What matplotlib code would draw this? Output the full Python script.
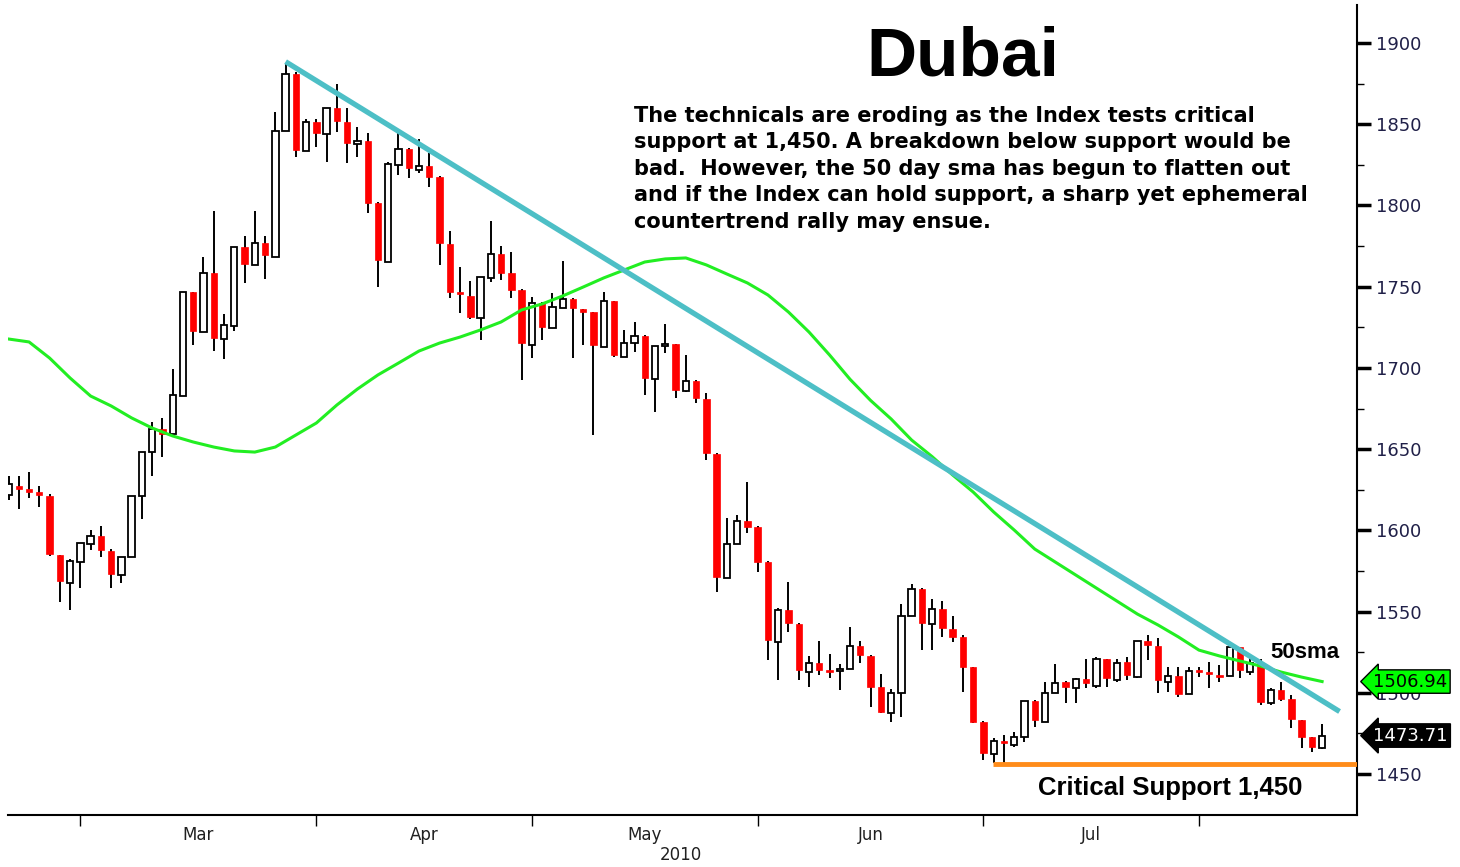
import matplotlib
matplotlib.use('Agg')
import matplotlib.pyplot as plt
from matplotlib.transforms import blended_transform_factory
import numpy as np

# daily OHLC, Dubai index, late Feb .. early Aug 2010 (one entry per trading day)
opens = [1621.8, 1627.3, 1625.5, 1623.6, 1621.2, 1584.8, 1567.6, 1580.5, 1591.6, 1596.5,
         1587.3, 1572.5, 1583.6, 1621.2, 1648.2, 1662.4, 1659.3, 1682.7, 1746.7, 1722.1,
         1758.4, 1717.8, 1725.8, 1774.4, 1763.4, 1776.9, 1768.3, 1845.9, 1880.9, 1833.5,
         1851.4, 1844.0, 1860.0, 1851.4, 1837.9, 1839.7, 1801.5, 1765.2, 1824.9, 1834.8,
         1821.8, 1824.3, 1817.5, 1776.3, 1746.7, 1744.3, 1730.7, 1755.4, 1770.1, 1758.4,
         1748.0, 1714.1, 1740.0, 1724.6, 1736.9, 1742.4, 1736.3, 1734.4, 1712.9, 1741.2,
         1706.7, 1715.3, 1719.7, 1693.2, 1713.5, 1714.7, 1685.8, 1692.0, 1680.9, 1647.0,
         1570.7, 1591.6, 1605.8, 1602.1, 1580.5, 1531.3, 1551.0, 1542.4, 1512.8, 1518.4,
         1514.0, 1513.4, 1514.7, 1528.8, 1522.7, 1503.6, 1487.6, 1499.9, 1547.3, 1563.9,
         1542.4, 1551.6, 1539.3, 1534.4, 1515.9, 1482.0, 1462.3, 1470.3, 1467.9, 1472.8,
         1495.0, 1482.0, 1499.9, 1506.7, 1503.0, 1508.5, 1504.2, 1520.8, 1507.9, 1519.0,
         1509.7, 1531.9, 1528.8, 1506.7, 1510.4, 1499.3, 1514.0, 1512.8, 1511.0, 1510.4,
         1528.2, 1512.8, 1518.4, 1493.7, 1501.7, 1496.2, 1483.3, 1472.8, 1466.0]
highs = [1633.5, 1633.5, 1635.9, 1627.3, 1622.4, 1584.8, 1582.4, 1592.2, 1600.2, 1602.7,
         1588.5, 1583.6, 1621.2, 1648.2, 1666.7, 1669.2, 1699.3, 1746.7, 1746.7, 1768.3,
         1796.6, 1733.2, 1774.4, 1781.2, 1796.6, 1781.2, 1857.6, 1887.1, 1882.0, 1853.2,
         1853.0, 1860.0, 1874.8, 1860.0, 1848.3, 1844.6, 1802.0, 1826.8, 1844.6, 1835.5,
         1840.9, 1832.3, 1818.0, 1784.3, 1762.1, 1753.5, 1756.0, 1790.5, 1775.1, 1771.4,
         1748.5, 1743.7, 1740.5, 1746.1, 1765.8, 1742.8, 1736.5, 1734.5, 1746.7, 1741.5,
         1723.4, 1728.3, 1720.0, 1713.5, 1727.0, 1715.0, 1707.9, 1692.5, 1684.6, 1647.5,
         1607.6, 1609.5, 1629.8, 1602.5, 1581.0, 1552.2, 1568.2, 1543.0, 1522.7, 1531.9,
         1523.9, 1517.7, 1540.5, 1531.9, 1523.0, 1511.6, 1502.3, 1554.7, 1567.0, 1564.5,
         1557.8, 1556.5, 1547.3, 1535.6, 1516.0, 1482.5, 1472.2, 1474.0, 1475.9, 1495.0,
         1495.5, 1506.7, 1517.7, 1507.0, 1509.1, 1520.8, 1522.1, 1521.0, 1520.8, 1522.1,
         1532.0, 1535.6, 1533.8, 1515.9, 1515.9, 1515.9, 1515.9, 1519.0, 1517.1, 1528.5,
         1528.5, 1521.4, 1520.8, 1503.0, 1506.7, 1498.7, 1483.5, 1473.0, 1480.8]
lows = [1618.7, 1613.2, 1619.9, 1614.4, 1584.2, 1555.9, 1551.0, 1564.5, 1587.9, 1583.6,
        1564.5, 1567.6, 1583.6, 1607.0, 1633.5, 1645.2, 1659.3, 1682.7, 1714.1, 1722.1,
        1710.4, 1705.5, 1722.7, 1752.3, 1763.4, 1754.8, 1768.3, 1845.9, 1829.9, 1833.5,
        1836.0, 1826.8, 1845.2, 1826.2, 1829.9, 1795.4, 1749.8, 1765.2, 1818.8, 1816.9,
        1820.0, 1811.4, 1763.4, 1743.0, 1733.8, 1730.1, 1717.2, 1752.9, 1754.1, 1743.0,
        1692.6, 1706.1, 1717.2, 1724.6, 1736.9, 1706.1, 1714.1, 1658.7, 1712.9, 1706.7,
        1706.7, 1709.8, 1683.3, 1672.9, 1709.2, 1681.5, 1685.2, 1678.4, 1643.3, 1562.0,
        1570.7, 1591.6, 1598.4, 1574.4, 1520.2, 1507.9, 1537.4, 1507.9, 1503.6, 1511.0,
        1509.1, 1501.7, 1514.7, 1518.4, 1491.3, 1487.6, 1482.0, 1485.1, 1547.3, 1526.3,
        1526.3, 1534.4, 1531.3, 1500.5, 1481.4, 1458.6, 1456.8, 1456.8, 1466.6, 1469.7,
        1478.9, 1482.0, 1499.9, 1493.7, 1493.7, 1503.0, 1503.0, 1503.6, 1506.7, 1507.9,
        1509.1, 1520.2, 1499.9, 1500.5, 1497.4, 1499.3, 1509.7, 1503.0, 1506.7, 1510.4,
        1509.1, 1511.0, 1492.5, 1492.5, 1495.0, 1478.3, 1466.0, 1463.6, 1465.4]
closes = [1628.6, 1625.5, 1623.6, 1621.8, 1585.5, 1568.8, 1581.1, 1592.2, 1596.5, 1587.9,
          1573.2, 1583.6, 1621.2, 1648.2, 1662.4, 1659.3, 1683.3, 1746.7, 1722.7, 1758.4,
          1718.4, 1726.4, 1774.4, 1764.0, 1776.9, 1769.5, 1845.9, 1880.9, 1834.2, 1851.4,
          1844.6, 1860.0, 1852.0, 1838.5, 1839.7, 1801.5, 1766.4, 1825.5, 1834.8, 1823.1,
          1824.3, 1817.5, 1776.9, 1746.7, 1745.5, 1731.4, 1756.0, 1770.1, 1758.4, 1748.0,
          1715.3, 1740.0, 1725.2, 1737.5, 1742.4, 1736.9, 1734.4, 1714.1, 1741.2, 1707.9,
          1715.3, 1719.7, 1693.8, 1713.5, 1714.7, 1686.4, 1692.0, 1681.5, 1647.6, 1571.3,
          1591.6, 1605.8, 1602.1, 1580.5, 1532.5, 1551.0, 1543.0, 1514.0, 1518.4, 1514.0,
          1512.8, 1514.7, 1528.8, 1523.3, 1503.6, 1488.2, 1499.9, 1547.3, 1563.9, 1543.0,
          1551.6, 1539.9, 1534.4, 1515.9, 1482.0, 1462.9, 1470.3, 1469.1, 1472.8, 1495.0,
          1483.3, 1499.9, 1506.0, 1503.6, 1508.5, 1506.0, 1520.8, 1509.1, 1518.4, 1511.0,
          1531.9, 1529.4, 1507.9, 1510.4, 1499.3, 1513.4, 1512.8, 1511.6, 1509.7, 1528.2,
          1514.0, 1518.4, 1494.4, 1501.7, 1496.2, 1483.9, 1472.8, 1466.6, 1473.71]

# 50 day simple moving average, read every 2nd session
sma_idx = list(range(0, 129, 2))
sma_vals = [1717.8, 1716.0, 1706.1, 1693.8, 1682.7, 1676.6, 1669.2, 1663.0, 1658.1, 1654.4,
            1651.3, 1648.9, 1648.2, 1651.3, 1658.7, 1666.1, 1677.2, 1687.0, 1695.7, 1703.0,
            1710.4, 1715.3, 1719.0, 1723.4, 1728.3, 1735.7, 1739.4, 1744.3, 1749.8, 1755.4,
            1760.3, 1765.2, 1767.1, 1767.7, 1763.4, 1757.8, 1752.3, 1744.9, 1734.4, 1722.1,
            1708.0, 1693.0, 1680.0, 1668.6, 1655.6, 1645.4, 1634.1, 1623.6, 1611.3, 1600.2,
            1588.5, 1580.5, 1572.5, 1564.5, 1556.5, 1548.5, 1541.8, 1534.4, 1526.3, 1522.7,
            1519.6, 1516.5, 1512.8, 1509.7, 1506.94]

# downtrend line from the April high
trend_idx = [27, 129.7]
trend_vals = [1888.5, 1488.5]

support_level = 1456
support_start = 95.9

month_starts = [7, 30, 51, 73, 95, 116]
month_names = ["Mar", "Apr", "May", "Jun", "Jul"]

last_close = 1473.71
last_sma = 1506.94

o = np.array(opens)
h = np.array(highs)
l = np.array(lows)
c = np.array(closes)
idx = np.arange(len(o))
up = c >= o

fig = plt.figure(figsize=(14.6, 8.67), dpi=100)
ax = fig.add_axes([8 / 1460, 52 / 867, 1349 / 1460, 810 / 867])

ax.vlines(idx, l, h, color='black', lw=1.4, zorder=2)
body = np.maximum(np.abs(c - o), 1.0)
ax.bar(idx[up], body[up], bottom=np.minimum(o, c)[up], width=0.62,
       facecolor='white', edgecolor='black', lw=1.3, zorder=3)
ax.bar(idx[~up], body[~up], bottom=np.minimum(o, c)[~up], width=0.62,
       facecolor='#ff0000', edgecolor='#ff0000', lw=0.5, zorder=3)

ax.plot(sma_idx, sma_vals, color='#22ee22', lw=2.2, zorder=4)
ax.plot(trend_idx, trend_vals, color='#4dbfc6', lw=3.8, zorder=5, solid_capstyle='butt')

xmax = 131.4
ax.hlines(support_level, support_start, xmax, color='#ff8c1a', lw=3.5, zorder=4)

ax.set_xlim(-0.05, xmax)
ax.set_ylim(1424.8, 1923.4)

for side in ['left', 'top']:
    ax.spines[side].set_visible(False)
ax.spines['bottom'].set_linewidth(1.5)
ax.spines['right'].set_linewidth(1.5)

ax.yaxis.tick_right()
ax.set_yticks(range(1450, 1901, 50))
ax.set_yticks(range(1475, 1900, 50), minor=True)
ax.tick_params(axis='y', which='major', direction='out', length=10, width=2.5,
               pad=4, labelsize=13, labelcolor='#202048')
ax.tick_params(axis='y', which='minor', direction='out', length=5, width=1)

ax.set_xticks(month_starts)
ax.set_xticklabels([])
mids = [(month_starts[k] + month_starts[k + 1]) / 2 for k in range(len(month_names))]
ax.set_xticks(mids, minor=True)
ax.set_xticklabels(month_names, minor=True)
ax.tick_params(axis='x', which='major', direction='out', length=8, width=1)
ax.tick_params(axis='x', which='minor', length=0, pad=8, labelsize=12, labelcolor='#202020')

# value tags on the price scale
trans = blended_transform_factory(ax.transAxes, ax.transData)
ax.text(1.012, last_sma, f"{last_sma:.2f}", transform=trans, fontsize=13, color='black',
        va='center', ha='left', clip_on=False, zorder=10,
        bbox=dict(boxstyle='larrow,pad=0.15', fc='#00ff00', ec='black', lw=1))
ax.text(1.012, last_close, f"{last_close:.2f}", transform=trans, fontsize=13, color='white',
        va='center', ha='left', clip_on=False, zorder=10,
        bbox=dict(boxstyle='larrow,pad=0.15', fc='black', ec='black', lw=1))

fig.text(963 / 1460, 1 - 57 / 867, "Dubai", fontsize=50, fontweight='bold',
         family='Liberation Sans', ha='center', va='center')

para = ("The technicals are eroding as the Index tests critical\n"
        "support at 1,450. A breakdown below support would be\n"
        "bad.  However, the 50 day sma has begun to flatten out\n"
        "and if the Index can hold support, a sharp yet ephemeral\n"
        "countertrend rally may ensue.")
fig.text(634 / 1460, 1 - 106 / 867, para, fontsize=15, fontweight='bold',
         family='DejaVu Sans', ha='left', va='top', linespacing=1.4)

fig.text(1305 / 1460, 1 - 652 / 867, "50sma", fontsize=16, fontweight='bold',
         family='Liberation Sans', ha='center', va='center')
fig.text(1170 / 1460, 1 - 788 / 867, "Critical Support 1,450", fontsize=18.5, fontweight='bold',
         family='Liberation Sans', ha='center', va='center')
fig.text(681 / 1460, 1 - 855 / 867, "2010", fontsize=12, color='#202020',
         ha='center', va='center')

fig.savefig('out.png', dpi=100)
